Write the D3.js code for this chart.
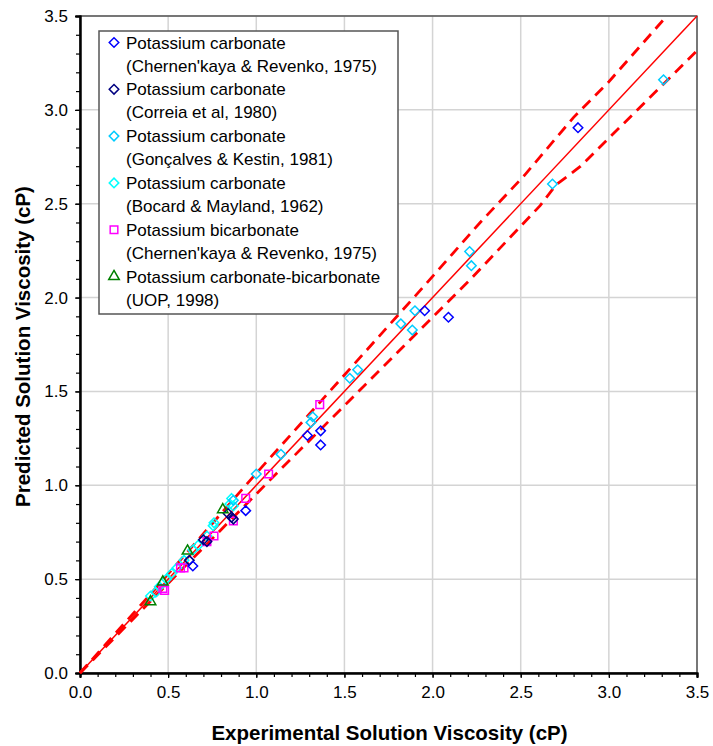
<html>
<style>
    body { margin: 0; background: white; }
    text { font-family: Arial, "Liberation Sans", sans-serif; }
</style>
<script src='https://d3js.org/d3.v7.min.js'></script>
<body onload="init()">
<svg width=713 height=746></svg>
<script>
// series values: [experimental, predicted]
var chernenkayaCarb = [[0.64,0.57],[0.94,0.865],[1.29,1.265],[1.365,1.29],[1.365,1.215],[1.955,1.93],[2.09,1.895],[2.825,2.905]];
var correiaCarb = [[0.62,0.60],[0.70,0.71],[0.72,0.70],[0.84,0.85],[0.86,0.83],[0.87,0.82]];
var goncalvesCarb = [[0.87,0.92],[1.00,1.06],[1.14,1.165],[1.31,1.335],[1.32,1.365],[1.53,1.57],[1.575,1.615],[1.82,1.86],[1.885,1.827],[1.90,1.93],[2.21,2.245],[2.22,2.17],[2.68,2.605],[3.31,3.16]];
var bocardCarb = [[0.40,0.41],[0.43,0.43],[0.45,0.46],[0.49,0.50],[0.52,0.53],[0.55,0.56],[0.59,0.60],[0.64,0.655],[0.67,0.68],[0.72,0.73],[0.755,0.785],[0.76,0.80],[0.85,0.90],[0.86,0.93],[0.87,0.89]];
var chernenkayaBicarb = [[0.47,0.45],[0.48,0.44],[0.57,0.56],[0.59,0.56],[0.72,0.70],[0.76,0.73],[0.87,0.81],[0.94,0.93],[1.07,1.06],[1.36,1.43]];
var uopMix = [[0.40,0.38],[0.47,0.485],[0.61,0.65],[0.81,0.87]];

var parity = [[0,0],[3.5,3.5]];
var upperBound = [[0,0],[0.4,0.42],[1.0,1.064],[1.966,2.076],[2.27,2.40],[2.52,2.65],[2.80,2.96],[3.0,3.15],[3.31,3.48]];
var lowerBound = [[0,0],[0.45,0.43],[1.116,1.064],[2.212,2.094],[2.61,2.49],[2.70,2.60],[2.84,2.70],[3.5,3.315]];

var tickValues = [0,0.5,1.0,1.5,2.0,2.5,3.0,3.5];
var minorTicks = d3.range(0, 36).map(function(i) {return i/10;});

var legendLabels = [
    ["Potassium carbonate", "(Chernen'kaya & Revenko, 1975)"],
    ["Potassium carbonate", "(Correia et al, 1980)"],
    ["Potassium carbonate", "(Gonçalves & Kestin, 1981)"],
    ["Potassium carbonate", "(Bocard & Mayland, 1962)"],
    ["Potassium bicarbonate", "(Chernen'kaya & Revenko, 1975)"],
    ["Potassium carbonate-bicarbonate", "(UOP, 1998)"]
];

function init() {
    var svg = d3.select("svg");
    var xScale = d3.scaleLinear().domain([0,3.5]).range([80,697]);
    var yScale = d3.scaleLinear().domain([0,3.5]).range([673,16]);

    // gridlines
    svg.append("g").selectAll("line").data(tickValues.slice(1))
        .enter().append("line")
        .attr("x1", function(d) {return xScale(d);}).attr("x2", function(d) {return xScale(d);})
        .attr("y1", yScale(0)).attr("y2", yScale(3.5))
        .style("stroke", "#d4d4d4").style("stroke-width", 1.5);
    svg.append("g").selectAll("line").data(tickValues.slice(1))
        .enter().append("line")
        .attr("y1", function(d) {return yScale(d);}).attr("y2", function(d) {return yScale(d);})
        .attr("x1", xScale(0)).attr("x2", xScale(3.5))
        .style("stroke", "#d4d4d4").style("stroke-width", 1.5);

    // plot frame
    svg.append("rect")
        .attr("x", xScale(0)).attr("y", yScale(3.5))
        .attr("width", xScale(3.5) - xScale(0)).attr("height", yScale(0) - yScale(3.5))
        .style("fill", "none").style("stroke", "#333").style("stroke-width", 1.2);

    // axes
    var xAxis = svg.append("g").attr("transform", "translate(0," + yScale(0) + ")")
        .call(d3.axisBottom(xScale).tickValues(tickValues).tickSize(5).tickPadding(8)
            .tickFormat(d3.format(".1f")));
    var xMinor = svg.append("g").attr("transform", "translate(0," + yScale(0) + ")")
        .call(d3.axisBottom(xScale).tickValues(minorTicks).tickSize(4).tickFormat(""));
    var yAxis = svg.append("g").attr("transform", "translate(" + xScale(0) + ",0)")
        .call(d3.axisLeft(yScale).tickValues(tickValues).tickSize(5).tickPadding(7)
            .tickFormat(d3.format(".1f")));
    var yMinor = svg.append("g").attr("transform", "translate(" + xScale(0) + ",0)")
        .call(d3.axisLeft(yScale).tickValues(minorTicks).tickSize(4).tickFormat(""));
    [xAxis, xMinor, yAxis, yMinor].forEach(function(a) {
        a.select(".domain").style("stroke", "black").style("stroke-width", 2);
        a.selectAll(".tick line").style("stroke", "black").style("stroke-width", 1.2);
        a.selectAll("text").style("font-size", "17px").style("fill", "black")
            .style("font-family", "Arial, 'Liberation Sans', sans-serif");
    });

    // axis titles
    svg.append("text")
        .attr("x", (xScale(0) + xScale(3.5)) / 2 + 1).attr("y", 740)
        .attr("text-anchor", "middle")
        .style("font-size", "20.5px").style("font-weight", "bold")
        .text("Experimental Solution Viscosity (cP)");
    svg.append("text")
        .attr("transform", "translate(30," + ((yScale(0) + yScale(3.5)) / 2 + 2) + ") rotate(-90)")
        .attr("text-anchor", "middle")
        .style("font-size", "20.5px").style("font-weight", "bold")
        .text("Predicted Solution Viscosity (cP)");

    // parity line and bounds
    var line = d3.line().x(function(d) {return xScale(d[0]);}).y(function(d) {return yScale(d[1]);});
    svg.append("path").attr("d", line(parity))
        .style("fill", "none").style("stroke", "#ff0000").style("stroke-width", 1.5);
    [upperBound, lowerBound].forEach(function(b) {
        svg.append("path").attr("d", line(b))
            .style("fill", "none").style("stroke", "#ff0000").style("stroke-width", 2.8)
            .style("stroke-dasharray", "11,7");
    });

    // markers
    var diamond = d3.symbol().type(d3.symbolDiamond2).size(58);
    var square = d3.symbol().type(d3.symbolSquare2).size(74);
    var triangle = d3.symbol().type(d3.symbolTriangle2).size(80);
    var series = [
        {data: chernenkayaCarb, color: "#0000ff", sym: diamond},
        {data: correiaCarb, color: "#000080", sym: diamond},
        {data: goncalvesCarb, color: "#00ccff", sym: diamond},
        {data: bocardCarb, color: "#00ffff", sym: diamond},
        {data: chernenkayaBicarb, color: "#ff00ff", sym: square},
        {data: uopMix, color: "#008000", sym: triangle}
    ];
    var drawOrder = [3, 2, 4, 1, 0, 5];
    drawOrder.forEach(function(k) {
        var s = series[k];
        svg.append("g").selectAll("path").data(s.data)
            .enter().append("path")
            .attr("transform", function(d) {return "translate(" + xScale(d[0]) + "," + yScale(d[1]) + ")";})
            .attr("d", s.sym)
            .style("fill", "none").style("stroke", s.color).style("stroke-width", 1.5);
    });

    // legend
    var legend = svg.append("g");
    legend.append("rect")
        .attr("x", 99).attr("y", 31).attr("width", 299).attr("height", 283)
        .style("fill", "white").style("stroke", "#555").style("stroke-width", 1.5);
    var rows = legend.selectAll("g.row").data(series)
        .enter().append("g").attr("class", "row")
        .attr("transform", function(d, i) {return "translate(0," + (42.5 + i * 46.8) + ")";});
    rows.append("path")
        .attr("transform", "translate(114,0)")
        .attr("d", function(d) {return d.sym();})
        .style("fill", "none").style("stroke", function(d) {return d.color;}).style("stroke-width", 1.5);
    rows.append("text").attr("x", 126).attr("y", 6)
        .style("font-size", "17px")
        .text(function(d, i) {return legendLabels[i][0];});
    rows.append("text").attr("x", 126).attr("y", 29)
        .style("font-size", "17px")
        .text(function(d, i) {return legendLabels[i][1];});
}
</script>
</body>
</html>
